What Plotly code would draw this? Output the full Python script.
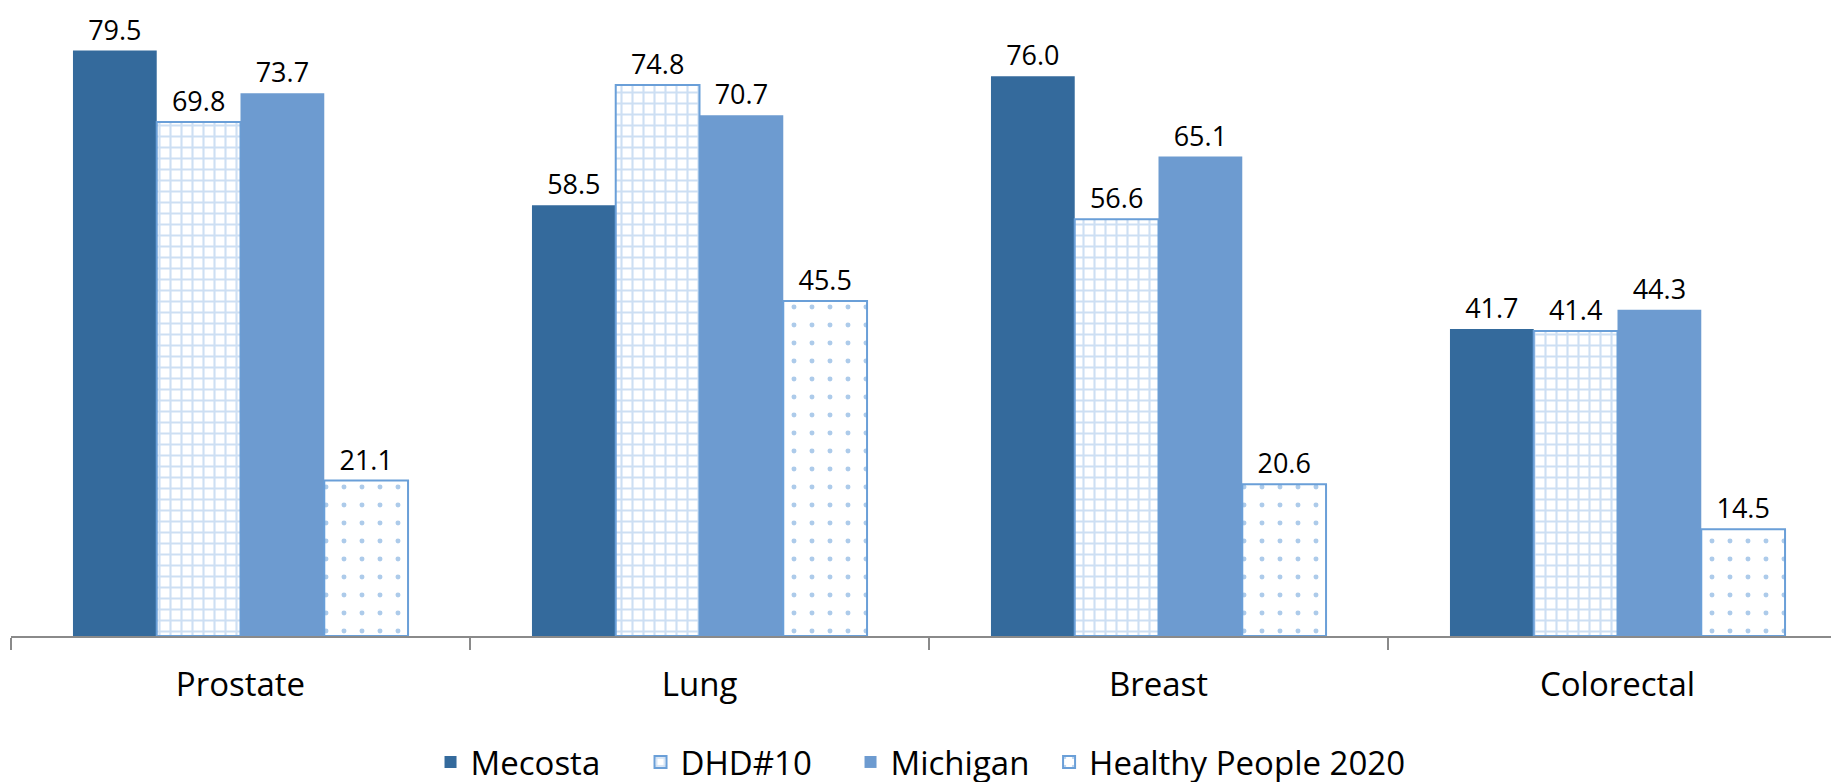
import plotly.graph_objects as go

# ------------------------------------------------------------
# Data
# ------------------------------------------------------------
categories = ["Prostate", "Lung", "Breast", "Colorectal"]
mecosta = [79.5, 58.5, 76.0, 41.7]
dhd10 = [69.8, 74.8, 56.6, 41.4]
michigan = [73.7, 70.7, 65.1, 44.3]
healthy_people = [21.1, 45.5, 20.6, 14.5]

COLORS = {
    "mecosta": "#346a9c",
    "michigan": "#6d9bd0",
    "pattern": "#9cc0e8",
    "outline": "#6a9fd8",
    "dots": "#5b98d6",
    "axis": "#8a8a8a",
}

FONT = "Open Sans, sans-serif"

fig = go.Figure()

fig.add_trace(go.Bar(
    x=categories, y=mecosta, name="Mecosta",
    marker=dict(color=COLORS["mecosta"], line=dict(width=0)),
))
fig.add_trace(go.Bar(
    x=categories, y=dhd10, name="DHD#10",
    marker=dict(
        color="white",
        line=dict(color=COLORS["outline"], width=2),
        pattern=dict(shape="+", fgcolor=COLORS["pattern"], bgcolor="white",
                     size=11, solidity=0.35),
    ),
))
fig.add_trace(go.Bar(
    x=categories, y=michigan, name="Michigan",
    marker=dict(color=COLORS["michigan"], line=dict(width=0)),
))
# last entry is long, so it gets its own legend box to keep the spacing even
fig.add_trace(go.Bar(
    x=categories, y=healthy_people, name="Healthy People 2020",
    legend="legend2",
    marker=dict(
        color="white",
        line=dict(color=COLORS["outline"], width=2),
        pattern=dict(shape=".", fgcolor=COLORS["dots"], bgcolor="white",
                     size=18, solidity=0.06),
    ),
))

fig.update_traces(
    texttemplate="%{y:.1f}",
    textposition="outside",
    textfont=dict(family=FONT, size=27, color="black"),
    cliponaxis=False,
)

LEGEND_BASE = dict(
    orientation="h",
    y=-0.157, yanchor="top",
    xanchor="left",
    font=dict(family=FONT, size=33),
    itemwidth=30,
    traceorder="normal",
)

fig.update_layout(
    width=1839,
    height=782,
    paper_bgcolor="white",
    plot_bgcolor="white",
    font=dict(family=FONT, color="black"),
    barmode="group",
    bargap=0.27,
    bargroupgap=0,
    margin=dict(l=3, r=0, t=2, b=153),
    showlegend=True,
    legend=dict(**LEGEND_BASE, x=0.2285, entrywidth=165),
    legend2=dict(**LEGEND_BASE, x=0.5654),
    xaxis=dict(
        showline=True,
        linecolor=COLORS["axis"],
        linewidth=2,
        ticks="outside",
        tickson="boundaries",
        ticklen=12,
        tickcolor=COLORS["axis"],
        tickwidth=2,
        ticklabelstandoff=18,
        tickfont=dict(family=FONT, size=33, color="black"),
        showgrid=False,
    ),
    yaxis=dict(
        range=[0, 85],
        visible=False,
        showgrid=False,
        zeroline=False,
    ),
)

fig.write_html("out.html")
